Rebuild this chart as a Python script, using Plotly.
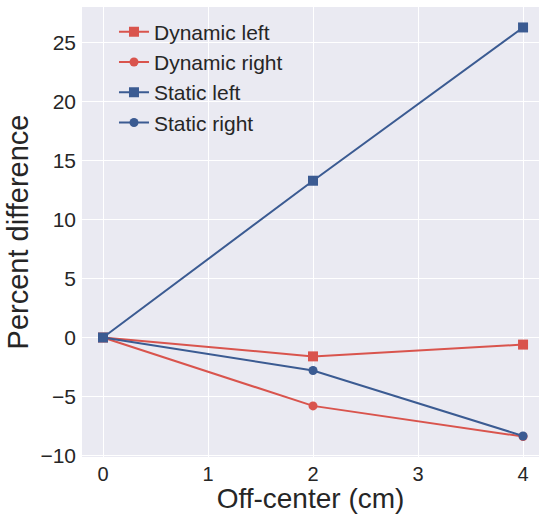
import plotly.graph_objects as go

offsets = [0, 2, 4]
dynamic_left = [0, -1.6, -0.6]
dynamic_right = [0, -5.8, -8.4]
static_left = [0, 13.3, 26.3]
static_right = [0, -2.8, -8.35]

RED = "#d9544d"
BLUE = "#3b5b92"

series = [
    ("Dynamic left", dynamic_left, RED, "square", 10),
    ("Dynamic right", dynamic_right, RED, "circle", 9),
    ("Static left", static_left, BLUE, "square", 10),
    ("Static right", static_right, BLUE, "circle", 9),
]

fig = go.Figure()
for name, vals, col, sym, sz in series:
    fig.add_trace(go.Scatter(
        x=offsets, y=vals, name=name, mode="lines+markers",
        line=dict(color=col, width=2),
        marker=dict(symbol=sym, size=sz, color=col),
    ))

font = "Liberation Sans, Arial, sans-serif"
fig.update_layout(
    width=539, height=514,
    margin=dict(l=82, r=0, t=7, b=57, autoexpand=False),
    paper_bgcolor="white", plot_bgcolor="#EAEAF2",
    font=dict(family=font, color="#262626", size=21),
    showlegend=True,
    legend=dict(x=0.07, y=0.99, xanchor="left", yanchor="top",
                bgcolor="rgba(0,0,0,0)", font=dict(size=21, color="#262626")),
    xaxis=dict(range=[-0.2, 4.152], tickvals=[0, 1, 2, 3, 4], automargin=False,
               showgrid=True, gridcolor="white", gridwidth=1.2, zeroline=False,
               showline=False, ticks="", tickfont=dict(size=20),
               ticklabelstandoff=3,
               title=dict(text="Off-center (cm)", font=dict(size=28), standoff=12)),
    yaxis=dict(range=[-10.135, 28.035], tickvals=[-10, -5, 0, 5, 10, 15, 20, 25],
               automargin=False,
               ticktext=["\u221210", "\u22125", "0", "5", "10", "15", "20", "25"],
               showgrid=True, gridcolor="white", gridwidth=1.2, zeroline=False,
               showline=False, ticks="", tickfont=dict(size=21),
               ticklabelstandoff=5,
               title=dict(text="Percent difference", font=dict(size=29), standoff=3)),
)

fig.write_html("out.html", post_script="document.body.style.margin='0';",
               config={"displayModeBar": False})
